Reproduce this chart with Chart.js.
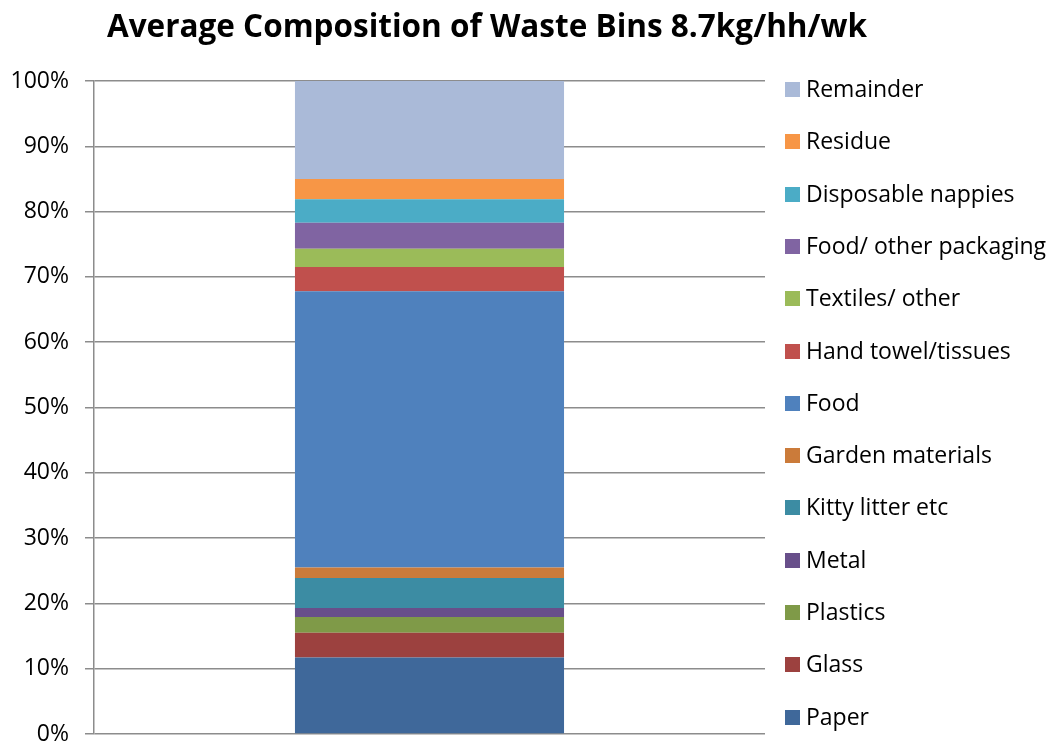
<!DOCTYPE html>
<html>
<head>
<meta charset="utf-8">
<title>Average Composition of Waste Bins</title>
<script src="https://cdn.jsdelivr.net/npm/chart.js@4/dist/chart.umd.min.js"></script>
<style>
  html, body { margin: 0; padding: 0; background: #ffffff; }
  #wrap { width: 1054px; height: 744px; }
</style>
</head>
<body>
<div id="wrap"><canvas id="chart" width="1054" height="744"></canvas></div>
<script>
// Waste stream categories, bottom of the stack first
const categories = [
  'Paper', 'Glass', 'Plastics', 'Metal', 'Kitty litter etc', 'Garden materials',
  'Food', 'Hand towel/tissues', 'Textiles/ other', 'Food/ other packaging',
  'Disposable nappies', 'Residue', 'Remainder'
];

// Share of the average bin, percent
const shares = [11.7, 3.8, 2.4, 1.4, 4.6, 1.6, 42.3, 3.7, 2.8, 4.0, 3.6, 3.1, 15.0];

const colours = [
  '#3f689a', '#9c413f', '#7f9a48', '#684f8a', '#3c8ca3', '#cb7b3a',
  '#4f81bd', '#c0504d', '#9bbb59', '#8064a2', '#4bacc6', '#f79646', '#aabad8'
];

const yTicks = [0, 10, 20, 30, 40, 50, 60, 70, 80, 90, 100];
const titleText = 'Average Composition of Waste Bins 8.7kg/hh/wk';

const FONT = '"Open Sans", "Noto Sans", sans-serif';

// Title drawn above the plot, centred over the area left of the legend
const titlePlugin = {
  id: 'binTitle',
  afterDraw(chart) {
    const ctx = chart.ctx;
    ctx.save();
    ctx.font = 'bold 31.5px ' + FONT;
    ctx.fillStyle = '#000000';
    ctx.textAlign = 'center';
    ctx.textBaseline = 'alphabetic';
    ctx.fillText(titleText, 487, 37);
    ctx.restore();
  }
};

// Legend listed top to bottom in the same order as the stack
const sideLegend = {
  id: 'sideLegend',
  afterDraw(chart) {
    const ctx = chart.ctx;
    const sets = chart.data.datasets;
    const x = chart.chartArea.right + 20;
    const top = 89.5, step = 52.3, box = 15;
    ctx.save();
    ctx.font = '23px ' + FONT;
    ctx.textBaseline = 'middle';
    ctx.textAlign = 'left';
    for (let k = 0; k < sets.length; k++) {
      const ds = sets[sets.length - 1 - k];
      const cy = top + k * step;
      ctx.fillStyle = ds.backgroundColor;
      ctx.fillRect(x, Math.round(cy - box / 2), box, box);
      ctx.fillStyle = '#000000';
      ctx.fillText(ds.label, x + box + 6, cy + 1);
    }
    ctx.restore();
  }
};

const datasets = categories.map((name, i) => ({
  label: name,
  data: [shares[i]],
  backgroundColor: colours[i],
  borderWidth: 0,
  categoryPercentage: 1.0,
  barPercentage: 0.401
}));

new Chart(document.getElementById('chart'), {
  type: 'bar',
  data: { labels: [''], datasets },
  options: {
    responsive: false,
    animation: false,
    devicePixelRatio: 1,
    layout: { padding: { top: 81, right: 289, bottom: 10, left: 0 } },
    plugins: {
      legend: { display: false },
      title: { display: false },
      tooltip: { enabled: false }
    },
    scales: {
      x: {
        stacked: true,
        display: false
      },
      y: {
        stacked: true,
        min: 0,
        max: 100,
        afterFit(scale) {
          scale.width = 94;
          scale.paddingTop = 0;
          scale.paddingBottom = 0;
        },
        afterBuildTicks(scale) { scale.ticks = yTicks.map(v => ({ value: v })); },
        ticks: {
          padding: 16,
          color: '#000000',
          font: { family: FONT, size: 23 },
          callback: v => v + '%'
        },
        grid: {
          color: '#8c8c8c',
          lineWidth: 1.5,
          tickLength: 9,
          drawTicks: true
        },
        border: { display: true, color: '#8c8c8c', width: 1.5 }
      }
    }
  },
  plugins: [titlePlugin, sideLegend]
});
</script>
</body>
</html>
